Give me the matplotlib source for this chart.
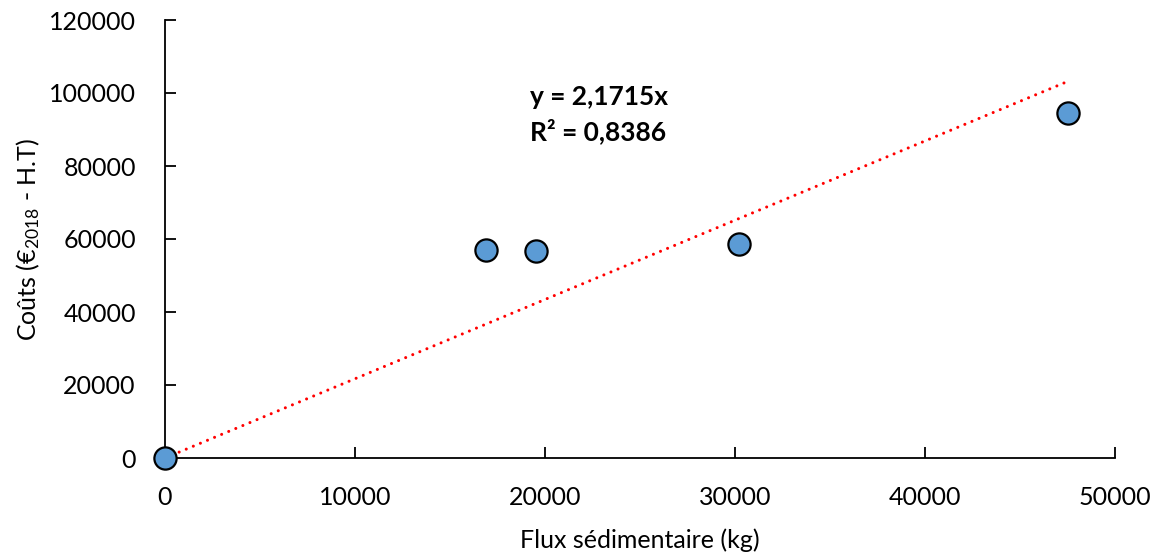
import numpy as np
import matplotlib
matplotlib.use("Agg")
import matplotlib.pyplot as plt

plt.rcParams['font.family'] = ['Lato', 'DejaVu Sans']
plt.rcParams['mathtext.default'] = 'regular'

# données
flux_kg = [0, 16900, 19500, 30200, 47500]
couts = [0, 57000, 56800, 58500, 94500]
pente = 2.1715
r2 = 0.8386
x_ticks = [0, 10000, 20000, 30000, 40000, 50000]
y_ticks = [0, 20000, 40000, 60000, 80000, 100000, 120000]

fig = plt.figure(figsize=(11.59, 5.57), dpi=100)
ax = fig.add_axes([165 / 1159, 1 - 458 / 557, 950 / 1159, 438 / 557])

# droite de tendance (passant par l'origine)
xt = np.array([0, max(flux_kg)])
ax.plot(xt, pente * xt, color='#FF0000', linewidth=2.2,
        linestyle=(0, (0.01, 2.5)), dash_capstyle='round', zorder=2)

# points
ax.plot(flux_kg, couts, 'o', markersize=16, markerfacecolor='#5B9BD5',
        markeredgecolor='black', markeredgewidth=1.6, zorder=3, clip_on=False)

ax.text(19200, 98900, 'y = %s' % str(pente).replace('.', ',') + 'x',
        fontsize=19, fontweight='bold', va='center', ha='left')
ax.text(19200, 89600, 'R² = %s' % str(r2).replace('.', ','),
        fontsize=19, fontweight='bold', va='center', ha='left')

ax.set_xlim(0, 50000)
ax.set_ylim(0, 120000)
ax.set_xticks(x_ticks)
ax.set_yticks(y_ticks)
ax.tick_params(direction='in', length=8, width=1.3, labelsize=18)
ax.tick_params(axis='x', pad=20)
ax.tick_params(axis='y', pad=21)
for s in ['top', 'right']:
    ax.spines[s].set_visible(False)
for s in ['left', 'bottom']:
    ax.spines[s].set_linewidth(1.3)

ax.set_xlabel('Flux sédimentaire (kg)', fontsize=18)
ax.set_ylabel('Coûts (€$_{2018}$ - H.T)', fontsize=18)
ax.xaxis.set_label_coords(0.5, (458 - 528) / 438, transform=ax.transAxes)
ax.yaxis.set_label_coords((42 - 165) / 950, 0.5, transform=ax.transAxes)

fig.savefig('out.png', dpi=100)
